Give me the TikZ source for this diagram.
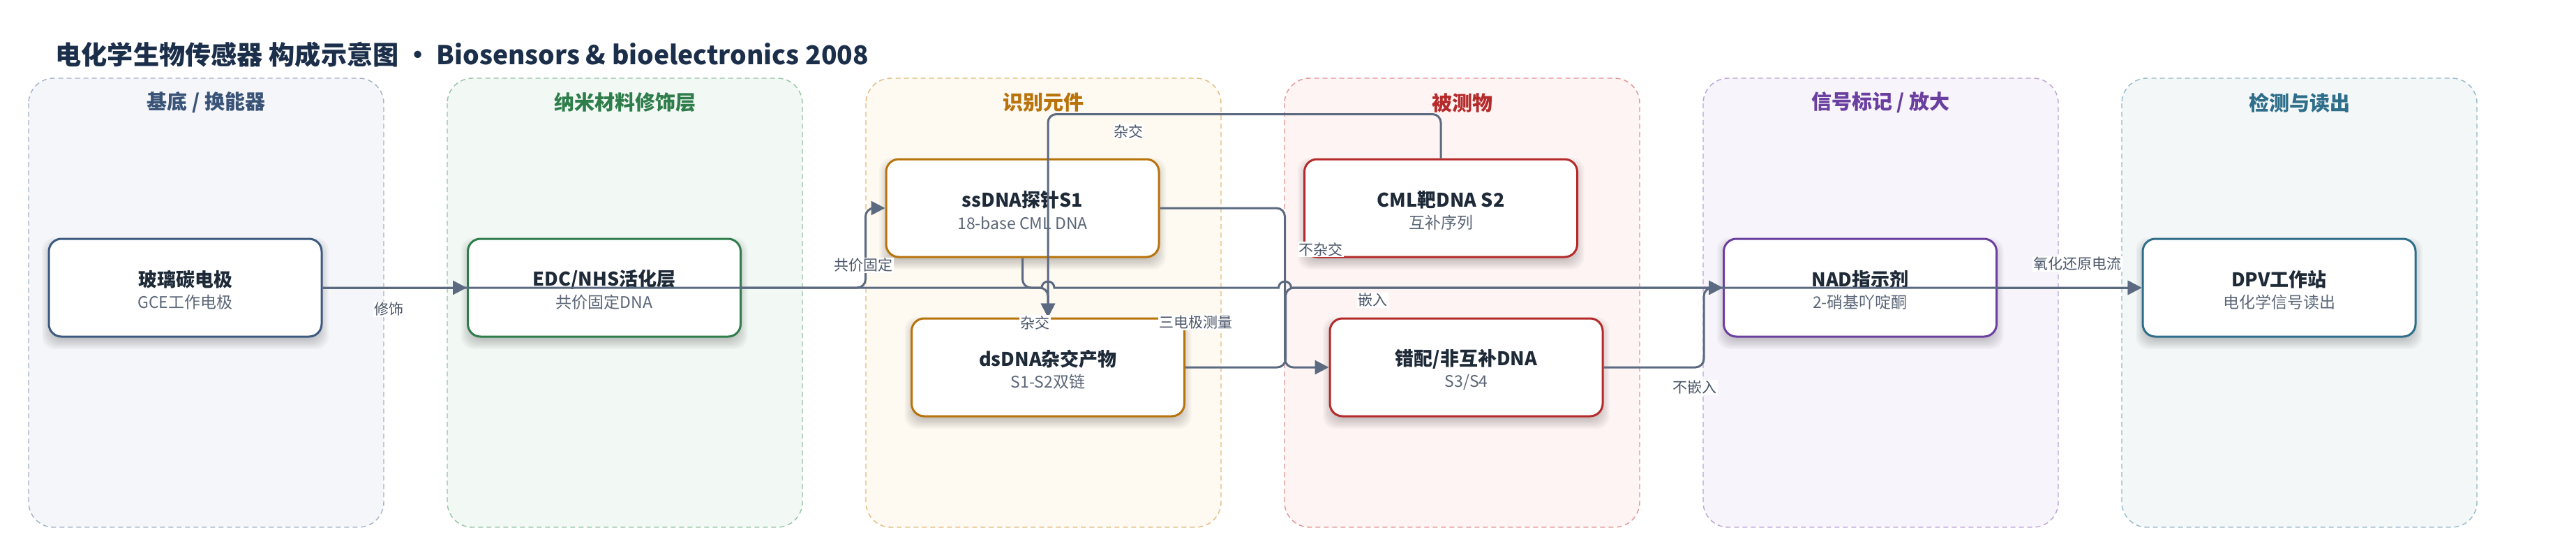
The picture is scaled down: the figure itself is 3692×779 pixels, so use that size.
\documentclass[tikz,border=0pt]{standalone}
\usepackage{fontspec}
\setmainfont{Noto Sans CJK SC}
\usetikzlibrary{arrows.meta,calc}
\pgfdeclarelayer{lanes}
\pgfdeclarelayer{shadow}
\pgfsetlayers{lanes,shadow,main}

\definecolor{titlec}{HTML}{1B2E4A}
\definecolor{ntc}{HTML}{1E2A38}
\definecolor{nsc}{HTML}{5B6677}
\definecolor{connc}{HTML}{5B6A80}
\definecolor{lblc}{HTML}{4A5568}
\definecolor{fA}{HTML}{F5F6FA}\definecolor{dA}{HTML}{A3B1C6}\definecolor{tA}{HTML}{3A5478}\definecolor{bA}{HTML}{3D5A80}
\definecolor{fB}{HTML}{F2F8F4}\definecolor{dB}{HTML}{94C4A4}\definecolor{tB}{HTML}{2E7D4A}
\definecolor{fC}{HTML}{FEF9F1}\definecolor{dC}{HTML}{E3BB7C}\definecolor{tC}{HTML}{B8730A}
\definecolor{fD}{HTML}{FEF4F3}\definecolor{dD}{HTML}{E39494}\definecolor{tD}{HTML}{B52A2A}
\definecolor{fE}{HTML}{F7F4FB}\definecolor{dE}{HTML}{BBA3D8}\definecolor{tE}{HTML}{6B3FA0}
\definecolor{fF}{HTML}{F3F7F8}\definecolor{dF}{HTML}{94B9C8}\definecolor{tF}{HTML}{2E6E8A}

\tikzset{
  lane/.style={draw=#1, line width=1.4pt, dash pattern=on 7pt off 5pt, rounded corners=36pt},
  lanetitle/.style={text=#1, font=\fontsize{29}{29}\selectfont\bfseries},
  box/.style={draw=#1, line width=3pt, fill=white, rounded corners=18pt, minimum width=391pt, minimum height=140pt, inner sep=0pt},
  ntitle/.style={text=ntc, font=\fontsize{27}{27}\selectfont\bfseries},
  nsub/.style={text=nsc, font=\fontsize{23}{23}\selectfont},
  conn/.style={draw=connc, line width=3pt, rounded corners=12pt},
  arr/.style={-{Triangle[length=20pt,width=20pt]}},
  lbl/.style={fill=white, text=lblc, font=\fontsize{21}{21}\selectfont, inner sep=1.5pt},
}

\newcommand\lanebox[6]{% name, x, fill, draw, text, title
  \begin{pgfonlayer}{lanes}
  \filldraw[lane=#4, fill=#3] (#2,112) rectangle ++(509,643);
  \end{pgfonlayer}
  \node[lanetitle=#5] (#1) at (#2+254.5,147) {#6};
}

\newcommand\boxnode[6]{% name, x, y, colour, title, subtitle
  \begin{pgfonlayer}{shadow}
  \foreach \s in {0,2,...,14}
    \fill[black, opacity=0.028, rounded corners=18pt] (#2-191.5-\s,#3-58-\s) rectangle (#2+191.5+\s,#3+74+\s);
  \end{pgfonlayer}
  \node[box=#4] (#1) at (#2,#3) {};
  \node[ntitle] (#1t) at ([yshift=12pt]#1.center) {#5};
  \node[nsub] (#1s) at ([yshift=-21pt]#1.center) {#6};
}

\begin{document}
\begin{tikzpicture}[x=1pt,y=-1pt]
\useasboundingbox (0,0) rectangle (3692,779);

\node[anchor=west, text=titlec, font=\fontsize{37.2}{37.2}\selectfont\bfseries] (title) at (76,78)
  {电化学生物传感器 构成示意图 • Biosensors \& bioelectronics 2008};

\lanebox{L1}{41}{fA}{dA}{tA}{基底 / 换能器}
\lanebox{L2}{641}{fB}{dB}{tB}{纳米材料修饰层}
\lanebox{L3}{1241}{fC}{dC}{tC}{识别元件}
\lanebox{L4}{1841}{fD}{dD}{tD}{被测物}
\lanebox{L5}{2441}{fE}{dE}{tE}{信号标记 / 放大}
\lanebox{L6}{3041}{fF}{dF}{tF}{检测与读出}

\boxnode{n1}{265.5}{412}{bA}{玻璃碳电极}{GCE工作电极}
\boxnode{n2}{866}{412}{tB}{EDC/NHS活化层}{共价固定DNA}
\boxnode{n3}{1465.5}{298}{tC}{ssDNA探针S1}{18-base CML DNA}
\boxnode{n4}{2065}{298}{tD}{CML靶DNA S2}{互补序列}
\boxnode{n5}{1502}{526}{tC}{dsDNA杂交产物}{S1-S2双链}
\boxnode{n6}{2101.5}{526}{tD}{错配/非互补DNA}{S3/S4}
\boxnode{n7}{2666}{412}{tE}{NAD指示剂}{2-硝基吖啶酮}
\boxnode{n8}{3266.5}{412}{tF}{DPV工作站}{电化学信号读出}

\coordinate (v1) at ($(n6.west)+(-63,0)$);

% connectors
\draw[conn,arr] (n1.east) -- (n2.west);
\draw[conn,arr] (n2.east) -| ($(n3.west)+(-28,0)$) -- (n3.west);
\draw[conn,arr] (n3.south) |- (n5.north |- n1.east) -- (n5.north);
\draw[conn,arr] (n4.north) -- ++(0,-63) -| (n5.north);
\draw[conn,arr] (n3.east) -| (v1) -- (n6.west);
\draw[conn,arr] (n5.east) -| ($(v1 |- n7.west)+(1,0)$) -- (n7.west);
\draw[conn,arr] (n6.east) -| ($(n7.west)+(-27,0)$) -- (n7.west);
\draw[conn,arr] (n7.east) -- (n8.west);
\draw[conn,sharp corners,arr] (n1.east) -- ($(n5.north |- n1.east)+(-9,0)$)
   arc[start angle=180, end angle=0, radius=9pt]
   -- ($(v1 |- n1.east)+(-9,0)$)
   arc[start angle=180, end angle=0, radius=9pt]
   -- (n8.west);

% labels
\node[lbl] (e1) at (557,443) {修饰};
\node[lbl] (e2) at (1237,380) {共价固定};
\node[lbl] (e3) at (1483,462) {杂交};
\node[lbl] (e4) at (1617,188) {杂交};
\node[lbl] (e5) at (1893,357) {不杂交};
\node[lbl] (e6) at (1967,430) {嵌入};
\node[lbl] (e7) at (2429,555) {不嵌入};
\node[lbl] (e8) at (2977,378) {氧化还原电流};
\node[lbl] (e9) at (1714,462) {三电极测量};
\end{tikzpicture}
\end{document}
